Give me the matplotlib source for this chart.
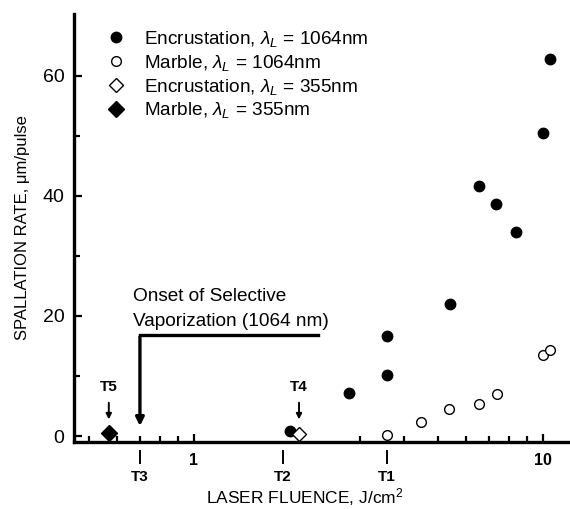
import numpy as np
import matplotlib
matplotlib.use('Agg')
import matplotlib.pyplot as plt
from matplotlib.ticker import FixedLocator, NullFormatter

plt.rcParams['font.family'] = ['Liberation Sans', 'DejaVu Sans']
plt.rcParams['mathtext.fontset'] = 'custom'
plt.rcParams['mathtext.rm'] = 'Liberation Sans'
plt.rcParams['mathtext.it'] = 'Liberation Sans:italic'

# data
enc_1064_x = [1.88, 2.78, 3.57, 3.57, 5.4, 6.56, 7.33, 8.37, 10.0, 10.5]
enc_1064_y = [0.8, 7.2, 10.2, 16.7, 22.0, 41.7, 38.7, 34.0, 50.4, 62.8]
mar_1064_x = [3.57, 4.47, 5.38, 6.56, 7.38, 10.0, 10.5]
mar_1064_y = [0.2, 2.3, 4.5, 5.3, 7.0, 13.5, 14.3]
enc_355_x = [2.0]
enc_355_y = [0.3]
mar_355_x = [0.57]
mar_355_y = [0.5]

# thresholds marked below the axis
thr_below = ['T3', 'T2', 'T1']
thr_below_x = [0.70, 1.80, 3.57]
# thresholds marked above the points
thr_above = ['T5', 'T4']
thr_above_x = [0.57, 2.0]

fig = plt.figure(figsize=(5.70, 5.09), dpi=100)
ax = fig.add_axes([0.1298, 0.1316, 0.8667, 0.841])

ax.plot(enc_1064_x, enc_1064_y, 'o', color='k', ms=7.5, label=r'Encrustation, $\lambda_L$ = 1064nm')
ax.plot(mar_1064_x, mar_1064_y, 'o', mfc='white', mec='k', mew=1.0, ms=7, label=r'Marble, $\lambda_L$ = 1064nm')
ax.plot(enc_355_x, enc_355_y, 'D', mfc='white', mec='k', mew=1.0, ms=7, label=r'Encrustation, $\lambda_L$ = 355nm')
ax.plot(mar_355_x, mar_355_y, 'D', color='k', ms=8, label=r'Marble, $\lambda_L$ = 355nm')

ax.set_xscale('log')
ax.set_xlim(0.453, 11.8)
ax.set_ylim(-1, 70.3)

for s in ['top', 'right']:
    ax.spines[s].set_visible(False)
for s in ['left', 'bottom']:
    ax.spines[s].set_linewidth(2.4)

ax.xaxis.set_major_locator(FixedLocator([1, 10]))
ax.set_xticklabels(['1', '10'], fontweight='bold', fontsize=11.5)
ax.xaxis.set_minor_locator(FixedLocator([0.5, 0.6, 0.7, 0.8, 0.9, 2, 3, 4, 5, 6, 7, 8, 9]))
ax.xaxis.set_minor_formatter(NullFormatter())
ax.set_yticks([0, 20, 40, 60])
ax.set_yticks([10, 30, 50], minor=True)
ax.tick_params(which='both', direction='in', width=1.6)
ax.tick_params(axis='y', labelsize=14, pad=7)
ax.tick_params(which='major', length=6)
ax.tick_params(which='minor', length=4)
ax.tick_params(axis='x', pad=8)

ax.set_xlabel('LASER FLUENCE, J/cm$^2$', fontsize=12.5)
ax.xaxis.set_label_coords(0.468, -0.104)
ax.set_ylabel('SPALLATION RATE, μm/pulse', fontsize=12, labelpad=9)

ax.legend(loc='upper left', bbox_to_anchor=(0.065, 0.965), frameon=False, fontsize=13.7,
          handlelength=1.0, handletextpad=1.0, labelspacing=0.2,
          borderaxespad=0.0, borderpad=0.0)

# labels under the axis
tr = ax.get_xaxis_transform()
for name, xv in zip(thr_below, thr_below_x):
    ax.plot([xv, xv], [-0.02, -0.05], color='k', lw=1.4, transform=tr, clip_on=False)
    ax.text(xv, -0.081, name, transform=tr, ha='center', va='center',
            fontsize=11, fontweight='bold')

# labels over the points
for name, xv in zip(thr_above, thr_above_x):
    ax.annotate('', xy=(xv, 2.3), xytext=(xv, 6.0),
                arrowprops=dict(arrowstyle='-|>', color='k', lw=1.4, mutation_scale=8))
    ax.text(xv, 8.2, name, ha='center', va='center', fontsize=11, fontweight='bold')

# onset of selective vaporization
ax.plot([0.70, 2.27], [16.8, 16.8], color='k', lw=2.4)
ax.annotate('', xy=(0.70, 1.2), xytext=(0.70, 17.0),
            arrowprops=dict(arrowstyle='-|>', color='k', lw=2.4, mutation_scale=12))
ax.text(0.669, 23.2, 'Onset of Selective', fontsize=13.7, va='center')
ax.text(0.669, 19.0, 'Vaporization (1064 nm)', fontsize=13.7, va='center')

fig.savefig('out.png', dpi=100)
